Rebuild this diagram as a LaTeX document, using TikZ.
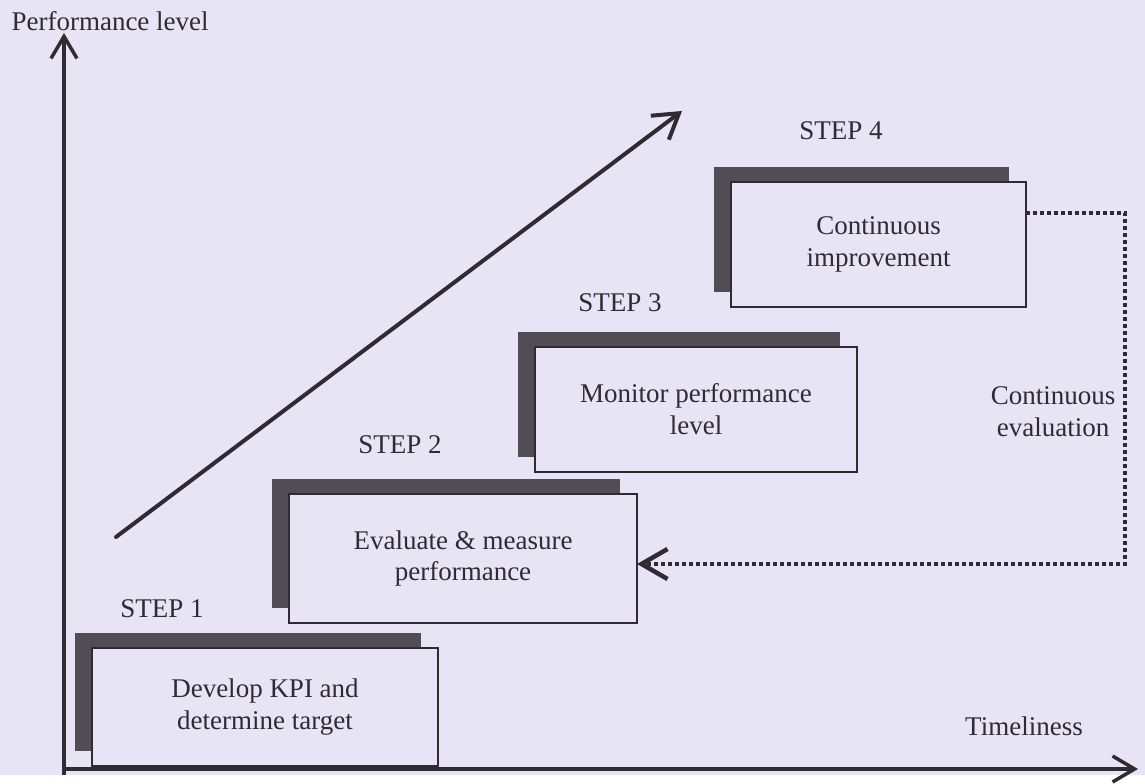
\documentclass[tikz,border=0pt]{standalone}
\usepackage{fontspec}
\setmainfont{Liberation Serif}
\usetikzlibrary{arrows.meta,shadows}
\definecolor{paper}{RGB}{231,229,245}
\definecolor{ink}{RGB}{48,43,48}
\definecolor{shade}{RGB}{80,78,84}
\tikzset{
    stepbox/.style={draw=ink, line width=2.5pt, fill=paper, text=ink, align=center,
        inner sep=0pt, outer sep=0pt,
        general shadow={fill=shade, draw=none, opacity=1, shadow xshift=-17pt, shadow yshift=15pt}},
    steplabel/.style={text=ink},
    axisline/.style={draw=ink, line width=3.5pt, -{Straight Barb[length=22pt,width=26pt]}},
    riseline/.style={draw=ink, line width=4pt, line cap=round, -{Straight Barb[length=24pt,width=30pt]}},
    loopline/.style={draw=ink, line width=4.5pt, dash pattern=on 4pt off 3pt,
        -{Straight Barb[length=26pt,width=30pt]}},
}
\begin{document}
\begin{tikzpicture}[x=1pt, y=-1pt, font=\fontsize{27}{32}\selectfont]
    \fill[paper] (0,0) rectangle (1145,775);
    % axes
    \coordinate (origin) at (64,769);
    \coordinate (ybottom) at (64,775);
    \coordinate (ytop) at (64,33);
    \coordinate (xend) at (1138,769);
    \draw[axisline] (ybottom) -- (ytop);
    \draw[axisline] (origin) -- (xend);
    \node[anchor=base west, text=ink] (perflbl) at (8,31) {Performance level};
    \node[anchor=base, text=ink] (timelbl) at (1024,735) {Timeliness};
    % rising arrow
    \coordinate (risestart) at (116,537);
    \coordinate (riseend) at (682,111);
    \draw[riseline] (risestart) -- (riseend);
    % steps
    \node[stepbox, minimum width=346pt, minimum height=118pt] (develop) at (265,707)
        {Develop KPI and\\determine target};
    \node[stepbox, minimum width=348pt, minimum height=129pt] (evaluate) at (463,558.5)
        {Evaluate \& measure\\performance};
    \node[stepbox, minimum width=322pt, minimum height=125pt] (monitor) at (696,409.5)
        {Monitor performance\\level};
    \node[stepbox, minimum width=295pt, minimum height=125pt] (improve) at (878.5,244.5)
        {Continuous\\improvement};
    \node[steplabel] (step1lbl) at (162,609) {STEP 1};
    \node[steplabel] (step2lbl) at (400,445) {STEP 2};
    \node[steplabel] (step3lbl) at (620,303) {STEP 3};
    \node[steplabel] (step4lbl) at (841,131) {STEP 4};
    % evaluation loop
    \coordinate (loopright) at (1125,564);
    \draw[loopline] ([yshift=-31pt]improve.north east) -| (loopright) -- (loopright -| evaluate.east);
    \node[align=center, text=ink] (evallbl) at (1053,412) {Continuous\\evaluation};
\end{tikzpicture}
\end{document}
